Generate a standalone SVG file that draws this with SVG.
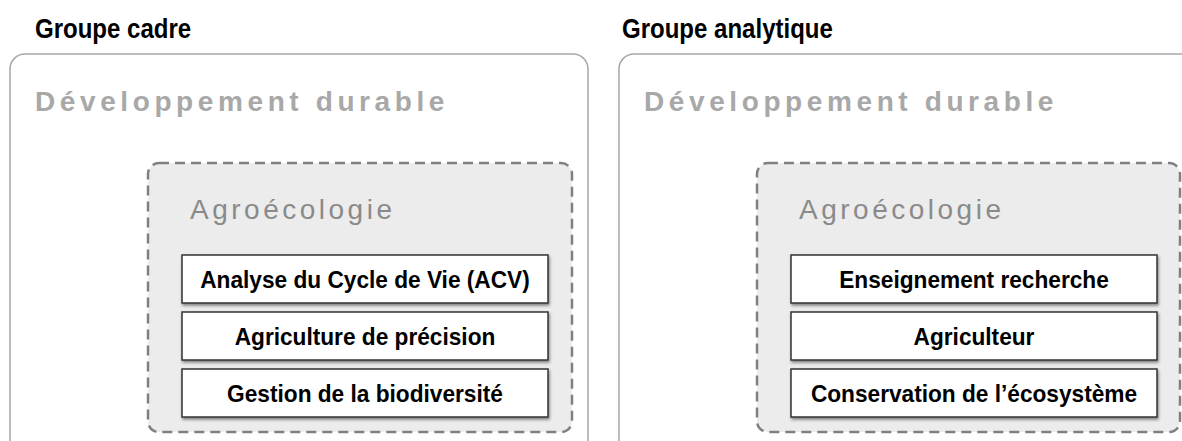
<svg xmlns="http://www.w3.org/2000/svg" width="1182" height="441" viewBox="0 0 1182 441">
<defs>
<style>
.title{font-family:"Liberation Sans",Arial,sans-serif;font-weight:bold;font-size:27px;fill:#000}
.dd{font-family:"Liberation Sans",Arial,sans-serif;font-weight:bold;font-size:28px;fill:#a8a8a8;letter-spacing:4.6px}
.agro{font-family:"Liberation Sans",Arial,sans-serif;font-size:28px;fill:#8a8a8a;letter-spacing:3.5px}
.item{font-family:"Liberation Sans",Arial,sans-serif;font-weight:bold;font-size:24px;fill:#000;text-anchor:middle}
.outer{fill:#fff;stroke:#a8a8a8;stroke-width:1.5}
.dash{fill:#ececec;stroke:#808080;stroke-width:2.5;stroke-dasharray:10 6}
.box{fill:#fff;stroke:#333;stroke-width:1.5;filter:url(#sh)}
</style>
<filter id="sh" x="-5%" y="-20%" width="110%" height="150%">
<feDropShadow dx="1" dy="2" stdDeviation="1.5" flood-color="#000" flood-opacity="0.45"/>
</filter>
</defs>
<g id="cadre">
<text class="title" transform="translate(35,38) scale(0.89,1)">Groupe cadre</text>
<rect class="outer" x="10" y="54" width="578" height="420" rx="15"/>
<text class="dd" x="35" y="111">Développement durable</text>
<g id="agro-cadre">
<rect class="dash" x="148" y="163" width="424" height="269" rx="11"/>
<text class="agro" x="190" y="219">Agroécologie</text>
</g>
<g id="acv"><rect class="box" x="182" y="255" width="366" height="48"/><text class="item" transform="translate(365,288) scale(0.945,1)">Analyse du Cycle de Vie (ACV)</text></g>
<g id="precision"><rect class="box" x="182" y="312" width="366" height="48"/><text class="item" transform="translate(365,345) scale(0.945,1)">Agriculture de précision</text></g>
<g id="biodiv"><rect class="box" x="182" y="369" width="366" height="48"/><text class="item" transform="translate(365,402) scale(0.945,1)">Gestion de la biodiversité</text></g>
</g>
<g id="analytique">
<text class="title" transform="translate(622,38) scale(0.89,1)">Groupe analytique</text>
<rect class="outer" x="619" y="54" width="600" height="420" rx="15"/>
<text class="dd" x="644" y="111">Développement durable</text>
<g id="agro-analytique">
<rect class="dash" x="757" y="163" width="423" height="269" rx="11"/>
<text class="agro" x="799" y="219">Agroécologie</text>
</g>
<g id="enseignement"><rect class="box" x="791" y="255" width="366" height="48"/><text class="item" transform="translate(974,288) scale(0.945,1)">Enseignement recherche</text></g>
<g id="agriculteur"><rect class="box" x="791" y="312" width="366" height="48"/><text class="item" transform="translate(974,345) scale(0.945,1)">Agriculteur</text></g>
<g id="conservation"><rect class="box" x="791" y="369" width="366" height="48"/><text class="item" transform="translate(974,402) scale(0.945,1)">Conservation de l’écosystème</text></g>
</g>
<g id="connectors"/>
</svg>
